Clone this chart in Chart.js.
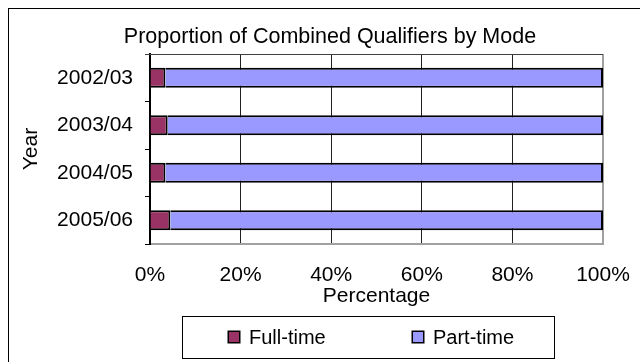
<!DOCTYPE html>
<html>
<head>
<meta charset="utf-8">
<title>Proportion of Combined Qualifiers by Mode</title>
<style>
  html, body { margin: 0; padding: 0; background: #fff; }
  #wrap { width: 640px; height: 362px; position: relative; }
  canvas { display: block; }
</style>
<script src="https://cdn.jsdelivr.net/npm/chart.js@4/dist/chart.umd.min.js"></script>
</head>
<body>
<div id="wrap"><canvas id="chart" width="640" height="362"></canvas></div>
<script>
// Academic years shown on the category axis (top to bottom)
const years = ['2002/03', '2003/04', '2004/05', '2005/06'];
// Share of qualifiers by study mode, in percent
const fullTime = [3.4, 3.9, 3.4, 4.5];
const partTime = [96.6, 96.1, 96.6, 95.5];
// Percentage axis ticks
const percentTicks = [0, 20, 40, 60, 80, 100];
const seriesNames = ['Full-time', 'Part-time'];
const seriesColors = ['#993366', '#9999FF'];
const chartTitle = 'Proportion of Combined Qualifiers by Mode';

const FONT = '"Liberation Sans", Arial, sans-serif';

// Background, outer frame, title, top edge of the plot and the boxed legend
const decorations = {
  id: 'decorations',
  beforeDraw(chart) {
    const ctx = chart.ctx;
    ctx.save();
    ctx.fillStyle = '#fff';
    ctx.fillRect(0, 0, chart.width, chart.height);
    ctx.restore();
  },
  afterDraw(chart) {
    const ctx = chart.ctx;
    const a = chart.chartArea;
    ctx.save();

    // outer chart frame
    ctx.strokeStyle = '#000';
    ctx.lineWidth = 1;
    ctx.strokeRect(8.5, 8.5, 700, 400);

    // top edge of the plot area
    ctx.strokeStyle = '#404040';
    ctx.beginPath();
    ctx.moveTo(a.left - 5, Math.round(a.top) + 0.5);
    ctx.lineTo(a.right, Math.round(a.top) + 0.5);
    ctx.stroke();

    // title
    ctx.fillStyle = '#000';
    ctx.font = '21.5px ' + FONT;
    ctx.textAlign = 'center';
    ctx.textBaseline = 'alphabetic';
    ctx.fillText(chartTitle, 330, 43);

    // legend box
    ctx.strokeStyle = '#000';
    ctx.lineWidth = 1;
    ctx.strokeRect(182.5, 316.5, 372, 42);
    const itemX = [228, 412];
    ctx.font = '20px ' + FONT;
    ctx.textAlign = 'left';
    chart.data.datasets.forEach((ds, i) => {
      ctx.fillStyle = ds.backgroundColor;
      ctx.fillRect(itemX[i], 331, 12, 12);
      ctx.lineWidth = 1.5;
      ctx.strokeStyle = '#000';
      ctx.strokeRect(itemX[i] + 0.25, 331.25, 11.5, 11.5);
      ctx.fillStyle = '#000';
      ctx.fillText(ds.label, itemX[i] + 21, 343.5);
    });
    ctx.restore();
  }
};

new Chart(document.getElementById('chart'), {
  type: 'bar',
  data: {
    labels: years,
    datasets: [
      {
        label: seriesNames[0],
        data: fullTime,
        backgroundColor: seriesColors[0],
        borderColor: '#000',
        borderWidth: 2
      },
      {
        label: seriesNames[1],
        data: partTime,
        backgroundColor: seriesColors[1],
        borderColor: '#000',
        borderWidth: 2
      }
    ]
  },
  options: {
    indexAxis: 'y',
    responsive: false,
    animation: false,
    devicePixelRatio: 1,
    barPercentage: 0.42,
    categoryPercentage: 1.0,
    layout: { padding: { top: 54, right: 37, bottom: 0, left: 0 } },
    plugins: {
      legend: { display: false },
      title: { display: false },
      tooltip: { enabled: false }
    },
    scales: {
      x: {
        type: 'linear',
        stacked: true,
        min: 0,
        max: 100,
        afterBuildTicks: (s) => { s.ticks = percentTicks.map(v => ({ value: v })); },
        afterFit: (s) => {
          s.height = 118;
          // end labels only need half their width beside the plot
          s.paddingLeft = 0;
          s.paddingRight = 30;
        },
        ticks: {
          callback: (v) => v + '%',
          color: '#000',
          font: { family: FONT, size: 21 },
          padding: 19,
          maxRotation: 0,
          autoSkip: false
        },
        grid: {
          drawTicks: false,
          color: (c) => (c.tick && c.tick.value === 100 ? '#a0a0a0' : '#202020'),
          lineWidth: (c) => (c.tick && c.tick.value === 100 ? 2 : 1)
        },
        border: { color: '#a0a0a0', width: 2 },
        title: {
          display: true,
          text: 'Percentage',
          color: '#000',
          font: { family: FONT, size: 21 },
          padding: { top: 0, bottom: 53 }
        }
      },
      y: {
        type: 'category',
        stacked: true,
        afterFit: (s) => { s.width = 150; },
        ticks: {
          color: '#000',
          font: { family: FONT, size: 21 },
          padding: 12
        },
        grid: {
          offset: true,
          drawOnChartArea: false,
          drawTicks: true,
          tickLength: 5,
          color: '#000',
          lineWidth: 1
        },
        border: { color: '#000', width: 2 },
        title: {
          display: true,
          text: 'Year',
          color: '#000',
          font: { family: FONT, size: 21 },
          padding: { top: 19, bottom: 0 }
        }
      }
    }
  },
  plugins: [decorations]
});
</script>
</body>
</html>
